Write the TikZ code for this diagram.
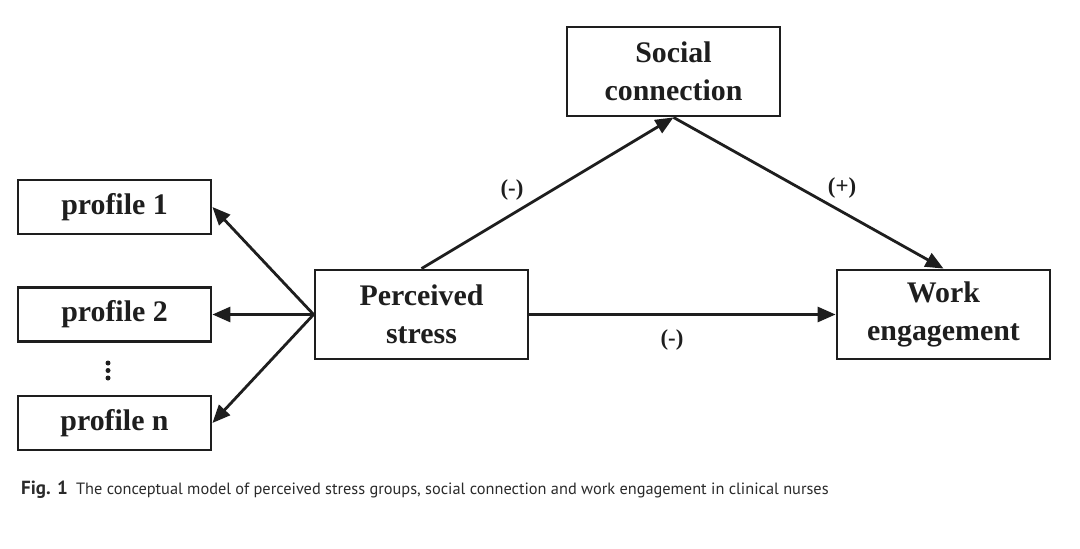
\documentclass[tikz,border=0pt]{standalone}
\usepackage{fontspec}
\setmainfont{Liberation Serif}
\newfontfamily\capfont{PT Sans}
\usepackage{tikz}
\usetikzlibrary{positioning,arrows.meta,calc}
\definecolor{ink}    {HTML}{1E1E1E}
\definecolor{capink} {HTML}{2A2A2A}
\tikzset{
  >={Triangle[length=0.36cm,width=0.3cm]},
  every node/.style={font=\fontsize{17}{21.5}\selectfont\bfseries},
  % --- nodes
  box/.style    = {draw=ink, line width=1.6pt, fill=white, align=center,
                   text=ink, inner sep=0pt},
  prof/.style   = {box, minimum width=3.86cm, minimum height=1.08cm},
  var/.style    = {box, minimum width=4.26cm, minimum height=1.78cm},
  sign/.style   = {font=\fontsize{13}{15}\selectfont\bfseries, text=ink},
  % --- edges
  e/.style      = {->, line width=1.6pt, draw=ink},
}

\begin{document}
\begin{tikzpicture}
  \useasboundingbox (0,0) rectangle (21.6,10.96);

  \node[prof] (p1) at (2.29,6.82) {profile 1};
  \node[prof] (p2) at (2.29,4.67) {profile 2};
  \node[prof] (pn) at (2.29,2.50) {profile n};
  % vertical ellipsis between profile 2 and profile n
  \foreach \i in {0,1,2}
    \fill[ink] (2.16,3.40+0.15*\i) circle (0.05);

  \node[var] (stress) at (8.43,4.67) {Perceived\\stress};
  \node[var] (social) at (13.47,9.53) {Social\\connection};
  \node[var] (work) at (18.87,4.67) {Work\\engagement};

  \draw[e] (stress.west) -- (p1.east);
  \draw[e] (stress.west) -- (p2.east);
  \draw[e] (stress.west) -- (pn.east);
  \draw[e] (stress.north) -- (social.south);
  \draw[e] (social.south) -- (work.north);
  \draw[e] (stress) -- (work);

  \node[sign] (s1) at (10.24,7.16) {(-)};
  \node[sign] (s2) at (16.84,7.20) {(+)};
  \node[sign] (s3) at (13.44,4.16) {(-)};

  \node[anchor=west, font=\capfont\fontsize{9.3}{11}\selectfont, text=capink] (cap) at (0.30,1.16)
    {{\fontsize{10.8}{12}\selectfont\bfseries Fig. 1}\hspace{0.5em}The conceptual model of perceived stress groups, social connection and work engagement in clinical nurses};
\end{tikzpicture}
\end{document}
